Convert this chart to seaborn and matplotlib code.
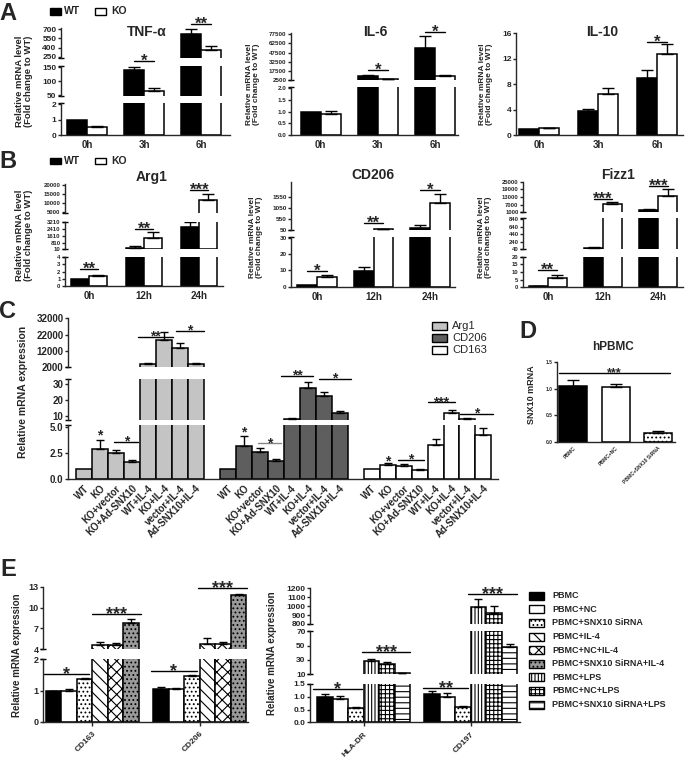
import numpy as np
import pandas as pd
import matplotlib
matplotlib.use("Agg")
import matplotlib.pyplot as plt
from matplotlib.patches import Rectangle
import seaborn as sns

sns.set_style("ticks")
plt.rcParams["font.family"] = ["Liberation Sans", "DejaVu Sans"]
plt.rcParams["font.weight"] = "bold"
plt.rcParams["hatch.linewidth"] = 0.8
plt.rcParams["axes.linewidth"] = 1.0

# ---------------- data ----------------
times_a = ["0h", "3h", "6h"]
times_b = ["0h", "12h", "24h"]

tnf_wt, tnf_wt_err = [1.0, 138, 615], [0, 12, 85]
tnf_ko, tnf_ko_err = [0.55, 63, 360], [0.02, 12, 65]
il6_wt, il6_wt_err = [1.0, 9500, 55000], [0, 1500, 19000]
il6_ko, il6_ko_err = [0.88, 4200, 9500], [0.17, 300, 600]
il10_wt, il10_wt_err = [1.0, 3.7, 8.9], [0, 0.35, 1.3]
il10_ko, il10_ko_err = [1.05, 6.5, 12.8], [0.06, 0.9, 1.5]

arg1_wt, arg1_wt_err = [1.0, 130, 2600], [0, 270, 600]
arg1_ko, arg1_ko_err = [1.45, 1400, 12000], [0.08, 600, 3000]
cd206_wt, cd206_wt_err = [1.0, 9.5, 155], [0, 2.3, 120]
cd206_ko, cd206_ko_err = [5.7, 80, 1280], [1.5, 5, 390]
fizz1_wt, fizz1_wt_err = [1.0, 55, 2800], [0.05, 45, 1000]
fizz1_ko, fizz1_ko_err = [6.3, 7500, 14000], [1.5, 1300, 5000]

c_genes = ["Arg1", "CD206", "CD163"]
c_conditions = ["WT", "KO", "KO+vector", "KO+Ad-SNX10",
                "WT+IL-4", "KO+IL-4", "vector+IL-4", "Ad-SNX10+IL-4"]
c_arg1 = [1.0, 2.9, 2.5, 1.6, 4200, 18700, 13600, 4200]
c_arg1_err = [0, 0.9, 0.35, 0.25, 300, 5000, 3400, 200]
c_cd206 = [1.0, 3.2, 2.6, 1.7, 8.2, 27.7, 22.8, 11.7]
c_cd206_err = [0, 1.0, 0.45, 0.25, 0.3, 3.8, 2.6, 1.7]
c_cd163 = [1.0, 1.4, 1.3, 0.85, 3.3, 12.1, 8.2, 4.3]
c_cd163_err = [0, 0.15, 0.15, 0.1, 0.6, 2.0, 0.3, 0.6]

d_groups = ["PBMC", "PBMC+NC", "PBMC+SNX10 SiRNA"]
d_vals = [1.06, 1.04, 0.17]
d_err = [0.1, 0.05, 0.04]

e_left_genes = ["CD163", "CD206"]
e_left_conds = ["PBMC", "PBMC+NC", "PBMC+SNX10 SiRNA",
                "PBMC+IL-4", "PBMC+NC+IL-4", "PBMC+SNX10 SiRNA+IL-4"]
e_cd163, e_cd163_err = [0.97, 1.0, 1.37, 4.64, 4.55, 7.8], [0.03, 0.05, 0.03, 0.35, 0.4, 0.6]
e_cd206, e_cd206_err = [1.05, 1.05, 1.48, 4.8, 4.7, 11.8], [0.05, 0.03, 0.02, 0.8, 0.35, 0.15]
e_right_genes = ["HLA-DR", "CD197"]
e_right_conds = ["PBMC", "PBMC+NC", "PBMC+SNX10 SiRNA",
                 "PBMC+LPS", "PBMC+NC+LPS", "PBMC+SNX10 SiRNA+LPS"]
e_hladr, e_hladr_err = [1.0, 0.92, 0.57, 28, 25, 11.3], [0.12, 0.1, 0.03, 3, 1.5, 0.3]
e_cd197, e_cd197_err = [1.1, 1.0, 0.61, 993, 927, 48], [0.12, 0.13, 0.02, 90, 75, 4]

# fill / hatch of every condition in panel D and E
cond_style = {
    "PBMC": ("black", None),
    "PBMC+NC": ("white", None),
    "PBMC+SNX10 SiRNA": ("white", "...."),
    "PBMC+IL-4": ("white", "\\\\\\"),
    "PBMC+NC+IL-4": ("white", "xxx"),
    "PBMC+SNX10 SiRNA+IL-4": ("#9a9a9a", "...."),
    "PBMC+LPS": ("white", "|||||"),
    "PBMC+NC+LPS": ("white", "++++"),
    "PBMC+SNX10 SiRNA+LPS": ("white", "---"),
}
gene_face = {"Arg1": "#c4c4c4", "CD206": "#5e5e5e", "CD163": "white"}

# ---------------- helpers ----------------
W, H = 685, 764
fig = plt.figure(figsize=(W / 100, H / 100), dpi=100)


def fx(x):
    return x / W


def fy(y):
    return 1 - y / H


def ftext(x, y, s, **kw):
    kw.setdefault("ha", "center")
    kw.setdefault("va", "center")
    fig.text(fx(x), fy(y), s, **kw)


def key(x, y, w, h, face, hatch=None):
    fig.add_artist(Rectangle((fx(x), fy(y + h / 2)), w / W, h / H, transform=fig.transFigure,
                             facecolor=face, edgecolor="black", linewidth=1, hatch=hatch))


def frame(groups, hues, vals, errs):
    rows = []
    for gi, g in enumerate(groups):
        for hi, h in enumerate(hues):
            rows.append((g, h, vals[hi][gi], errs[hi][gi]))
    return pd.DataFrame(rows, columns=["x", "hue", "val", "err"])


def bar_panel(df, x_px, xlim, segs, width, faces, hatches, tick_fs, cap):
    """Broken y axis: one axes per segment, bottom segment first."""
    order = list(dict.fromkeys(df["x"]))
    hue_order = list(dict.fromkeys(df["hue"]))
    vals = df["val"].to_numpy(float)
    errs = df["err"].to_numpy(float)
    axes = []
    for k, (lo, hi, ticks, p_lo, p_hi, fmt) in enumerate(segs):
        ax = fig.add_axes([fx(x_px[0]), fy(p_lo), (x_px[1] - x_px[0]) / W, (p_lo - p_hi) / H])
        sns.barplot(data=df, x="x", y="val", hue="hue", order=order, hue_order=hue_order,
                    palette={h: "white" for h in hue_order}, width=width, errorbar=None,
                    saturation=1, edgecolor="black", linewidth=1.1, legend=False, ax=ax)
        bars = sorted(ax.patches, key=lambda p: p.get_x())
        centers = np.array([p.get_x() + p.get_width() / 2 for p in bars])
        for p, fc, ht, v in zip(bars, faces, hatches, vals):
            p.set_facecolor(fc)
            if ht:
                p.set_hatch(ht)
            if k > 0 and v < lo:
                # bar ends below this segment: keep its top edge from peeking in
                p.set_visible(False)
        m = (errs > 0) & ((vals >= lo) if k > 0 else True)
        ax.errorbar(centers[m], vals[m], yerr=[np.zeros(m.sum()), errs[m]], fmt="none",
                    ecolor="black", elinewidth=1, capsize=cap, capthick=1)
        ax.set_xlim(*xlim)
        ax.set_ylim(lo, hi)
        ax.set_yticks(ticks)
        ax.set_yticklabels([fmt.format(t) for t in ticks])
        ax.tick_params(axis="y", direction="out", length=2.2, width=1, labelsize=tick_fs, pad=1)
        ax.set_xlabel("")
        ax.set_ylabel("")
        ax.patch.set_visible(False)
        for s in ["top", "right"]:
            ax.spines[s].set_visible(False)
        if k > 0:
            ax.spines["bottom"].set_visible(False)
            ax.tick_params(axis="x", bottom=False, labelbottom=False)
            ax.plot([0], [0], marker="_", ms=5, mew=1, color="black",
                    transform=ax.transAxes, clip_on=False)
        if k < len(segs) - 1:
            ax.plot([0], [1], marker="_", ms=5, mew=1, color="black",
                    transform=ax.transAxes, clip_on=False)
        axes.append(ax)
    return axes, centers


def sig(ax, x0, x1, y, s, fs=12, color="black"):
    if x1 > x0:
        ax.plot([x0, x1], [y, y], color=color, lw=1, clip_on=False)
    ax.annotate(s, ((x0 + x1) / 2, y), xytext=(0, -0.28 * fs), textcoords="offset points",
                ha="center", va="baseline", fontsize=fs, fontweight="bold",
                annotation_clip=False)


def bx(g, i, n, w):
    return g + (i - (n - 1) / 2) * w / n


YL = "Relative mRNA level\n(Fold change to WT)"

# ---------------- panel A / B ----------------
ab_faces = ["black", "white"] * 3
ab_hatch = [None, None] * 3

ab_specs = [
    # data, times, x_px, xlim, width, segs, tick_fs, title, title_xy, sigs(seg, group, y, text)
    ((tnf_wt, tnf_ko, tnf_wt_err, tnf_ko_err), times_a, (61, 230), (-0.46, 2.5), 0.7,
     [(0, 2.08, [0, 1, 2], 135, 103, "{:g}"),
      (45, 155, [50, 100, 150], 96.4, 65.6, "{:g}"),
      (240, 710, [250, 400, 550, 700], 57.6, 28.4, "{:g}")],
     6, "TNF-α", (147, 32), [(1, 1, 171, "*"), (2, 2, 780, "**")]),
    ((il6_wt, il6_ko, il6_wt_err, il6_ko_err), times_a, (291, 458), (-0.52, 2.4), 0.7,
     [(0, 2.05, [0, 0.5, 1.0, 1.5, 2.0], 135, 87.2, "{:.1f}"),
      (2500, 80000, [2500, 17500, 32500, 47500, 62500, 77500], 80, 32.8, "{:g}")],
     4.5, "IL-6", (375, 32), [(1, 1, 18900, "*"), (1, 2, 81300, "*")]),
    ((il10_wt, il10_ko, il10_wt_err, il10_ko_err), times_a, (516, 683), (-0.39, 2.44), 0.68,
     [(0, 16, [0, 4, 8, 12, 16], 135, 33.3, "{:g}")],
     6, "IL-10", (602, 32), [(0, 2, 14.6, "*")]),
    ((arg1_wt, arg1_ko, arg1_wt_err, arg1_ko_err), times_b, (65, 223), (-0.44, 2.43), 0.66,
     [(0, 4, [0, 1, 2, 3, 4], 286, 257.3, "{:g}"),
      (10, 3300, [10, 810, 1610, 2410, 3210], 249.3, 221.5, "{:g}"),
      (4500, 20500, [5000, 10000, 15000, 20000], 213.2, 184.1, "{:g}")],
     4.3, "Arg1", (152, 177), [(0, 0, 2.37, "**"), (1, 1, 2415, "**"), (2, 2, 17250, "***")]),
    ((cd206_wt, cd206_ko, cd206_wt_err, cd206_ko_err), times_b, (291, 455), (-0.46, 2.44), 0.7,
     [(0, 30.5, [0, 10, 20, 30], 286.7, 236.9, "{:g}"),
      (50, 2200, [50, 550, 1050, 1550], 230, 182.3, "{:g}")],
     4.6, "CD206", (373, 175), [(0, 0, 9.6, "*"), (1, 1, 365, "**"), (1, 2, 1850, "*")]),
    ((fizz1_wt, fizz1_ko, fizz1_wt_err, fizz1_ko_err), times_b, (523, 683), (-0.45, 2.45), 0.68,
     [(0, 20, [0, 5, 10, 15, 20], 287.3, 256.7, "{:g}"),
      (40, 880, [40, 240, 440, 640, 840], 249, 217.8, "{:g}"),
      (1000, 25000, [1000, 7000, 13000, 19000, 25000], 212.3, 181.7, "{:g}")],
     4.2, "Fizz1", (618, 175), [(0, 0, 11.3, "**"), (2, 1, 11430, "***"), (2, 2, 21600, "***")]),
]

for (wt, ko, wte, koe), times, xpx, xlim, w, segs, tfs, title, txy, sigs in ab_specs:
    df = frame(times, ["WT", "KO"], [wt, ko], [wte, koe])
    axes, _ = bar_panel(df, xpx, xlim, segs, w, ab_faces, ab_hatch, tfs, 4)
    axes[0].set_xticks(range(3))
    axes[0].set_xticklabels(times, fontsize=7)
    axes[0].tick_params(axis="x", length=0, pad=3.5)
    ftext(txy[0], txy[1], title, fontsize=10)
    for seg, g, y, s in sigs:
        sig(axes[seg], g - w / 4, g + w / 4, y, s, fs=12)

ftext(24, 81, YL, rotation=90, fontsize=6.8, linespacing=1.1)
ftext(253, 84, YL, rotation=90, fontsize=6, linespacing=1.1)
ftext(486, 84, YL, rotation=90, fontsize=6, linespacing=1.1)
ftext(24, 235, YL, rotation=90, fontsize=6.8, linespacing=1.1)
ftext(256, 237, YL, rotation=90, fontsize=6, linespacing=1.1)
ftext(485, 237, YL, rotation=90, fontsize=6, linespacing=1.1)

for ytop in (11.5, 161):
    key(50, ytop, 11, 6, "black")
    ftext(64, ytop, "WT", ha="left", fontsize=7.5)
    key(95, ytop, 11, 6, "white")
    ftext(111, ytop, "KO", ha="left", fontsize=7.5)

# ---------------- panel C ----------------
c_vals = [c_arg1, c_cd206, c_cd163]
c_errs = [c_arg1_err, c_cd206_err, c_cd163_err]
c_rows = [(g, c, c_vals[gi][ci], c_errs[gi][ci])
          for gi, g in enumerate(c_genes) for ci, c in enumerate(c_conditions)]
c_df = pd.DataFrame(c_rows, columns=["x", "hue", "val", "err"])
c_faces = [gene_face[g] for g in c_df["x"]]
c_axes, c_centers = bar_panel(
    c_df, (68, 498), (-0.5, 2.49),
    [(0, 5.2, [0, 2.5, 5.0], 479, 425.3, "{:.1f}"),
     (7.5, 33.5, [10, 20, 30], 420, 378.8, "{:g}"),
     (2000, 32500, [2000, 12000, 22000, 32000], 367.3, 317.5, "{:g}")],
    0.889, c_faces, [None] * len(c_df), 7, 3.2)
c_axes[0].set_xticks(c_centers)
c_axes[0].set_xticklabels(c_conditions * 3, rotation=45, ha="right",
                          rotation_mode="anchor", fontsize=7)
c_axes[0].tick_params(axis="x", length=0, pad=3)

c_sigs = [  # seg, gene, bar from, bar to, y, text, colour
    (0, 0, 1, 1, 4.2, "*", "black"), (0, 0, 1.9, 3.4, 3.58, "*", "black"),
    (2, 0, 3.4, 5.6, 20550, "**", "black"), (2, 0, 5.75, 7.5, 24200, "*", "black"),
    (0, 1, 1, 1, 4.5, "*", "black"), (0, 1, 1.9, 3.3, 3.45, "*", "#888888"),
    (1, 1, 3.3, 5.35, 35.5, "**", "black"), (1, 1, 5.7, 7.7, 33.4, "*", "black"),
    (0, 2, 1, 1, 1.65, "*", "black"), (0, 2, 1.65, 3.3, 1.84, "*", "black"),
    (1, 2, 3.5, 5.25, 18.7, "***", "black"), (1, 2, 5.56, 7.6, 11.3, "*", "black"),
]
for seg, g, i0, i1, y, s, col in c_sigs:
    sig(c_axes[seg], bx(g, i0, 8, 0.889), bx(g, i1, 8, 0.889), y, s, fs=10, color=col)

ftext(23, 392, "Relative mRNA expression", rotation=90, fontsize=7.5)
for gi, g in enumerate(c_genes):
    key(432, 326 + 12 * gi, 15, 8, gene_face[g])
    ftext(452, 326 + 12 * gi, g, ha="left", fontsize=8, fontweight="normal")

# ---------------- panel D ----------------
d_df = pd.DataFrame({"x": d_groups, "hue": d_groups, "val": d_vals, "err": d_err})
d_axes, _ = bar_panel(d_df, (557, 675), (-0.38, 2.4),
                      [(0, 1.5, [0, 0.5, 1.0, 1.5], 441.7, 362.3, "{:.1f}")],
                      0.66, [cond_style[g][0] for g in d_groups],
                      [cond_style[g][1] for g in d_groups], 3.5, 4)
d_axes[0].set_xticks(range(3))
d_axes[0].set_xticklabels(d_groups, rotation=45, ha="right", rotation_mode="anchor", fontsize=3.6)
d_axes[0].tick_params(axis="x", length=0, pad=3)
sig(d_axes[0], -0.33, 2.28, 1.3, "***", fs=9)
ftext(613, 347, "hPBMC", fontsize=8.5)
ftext(532, 395, "SNX10 mRNA", rotation=90, fontsize=6.5)

# ---------------- panel E ----------------
e_specs = [
    (e_left_genes, e_left_conds, [e_cd163, e_cd206], [e_cd163_err, e_cd206_err], (43, 248),
     (-0.46, 1.45),
     [(0, 2, [0, 1, 2], 721.7, 659.3, "{:g}"), (4, 13, [4, 7, 10, 13], 649.3, 586.7, "{:g}")],
     [(0, 0, -0.63, 2.3, 1.53, "*"), (1, 0, 2.45, 5.6, 9.07, "***"),
      (0, 1, -0.62, 2.3, 1.62, "*"), (1, 1, 2.37, 5.55, 12.8, "***")]),
    (e_right_genes, e_right_conds, [e_hladr, e_cd197], [e_hladr_err, e_cd197_err], (310, 520),
     (-0.5, 1.46),
     [(0, 1.5, [0, 0.5, 1.0, 1.5], 722.3, 684, "{:.1f}"),
      (10, 70.5, [10, 30, 50, 70], 674.3, 631, "{:g}"),
      (800, 1200, [800, 900, 1000, 1100, 1200], 624, 588.3, "{:g}")],
     [(0, 0, -0.76, 2.4, 1.3, "*"), (1, 0, 2.4, 5.5, 41, "***"),
      (0, 1, -0.56, 2.35, 1.34, "**"), (2, 1, 2.35, 5.5, 1138, "***")]),
]
for n_e, (genes, conds, vals, errs, xpx, xlim, segs, sigs) in enumerate(e_specs):
    rows = [(g, c, vals[gi][ci], errs[gi][ci])
            for gi, g in enumerate(genes) for ci, c in enumerate(conds)]
    df = pd.DataFrame(rows, columns=["x", "hue", "val", "err"])
    axes, _ = bar_panel(df, xpx, xlim, segs, 0.87,
                        [cond_style[c][0] for c in df["hue"]],
                        [cond_style[c][1] for c in df["hue"]], 6.5 if n_e == 0 else 6, 2.8)
    axes[0].set_xticks(range(2))
    axes[0].set_xticklabels(genes, rotation=45, ha="right", rotation_mode="anchor", fontsize=6)
    axes[0].tick_params(axis="x", length=3, width=1, pad=3)
    for seg, g, i0, i1, y, s in sigs:
        sig(axes[seg], bx(g, i0, 6, 0.87), bx(g, i1, 6, 0.87), y, s, fs=13)

ftext(17, 655, "Relative mRNA expression", rotation=90, fontsize=7)
ftext(272, 653, "Relative mRNA expression", rotation=90, fontsize=7)

legend_conds = e_left_conds + e_right_conds[3:]
for i, c in enumerate(legend_conds):
    y = 595.7 + 13.6 * i
    key(529, y, 15, 8, cond_style[c][0], cond_style[c][1])
    ftext(552, y, c, ha="left", fontsize=6.5)

# ---------------- panel letters ----------------
for lab, (x, y) in {"A": (8, 13), "B": (8, 162), "C": (8, 312),
                    "D": (528, 331), "E": (8, 570)}.items():
    ftext(x, y, lab, fontsize=17)

fig.savefig("out.png", dpi=100)
